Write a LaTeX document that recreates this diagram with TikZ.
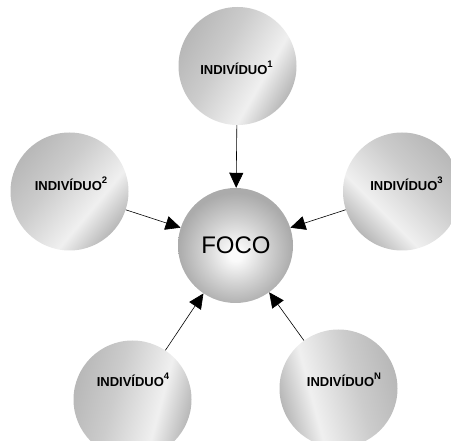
\documentclass[tikz,border=0pt]{standalone}
\usepackage{fontspec}
\setmainfont{Liberation Sans}
\usetikzlibrary{arrows.meta}

% greys for the satellite discs and the central disc
\definecolor{indEdge}{gray}{0.72}
\definecolor{indMid}{gray}{0.80}
\definecolor{indLight}{gray}{0.94}
\definecolor{focoEdge}{gray}{0.67}
\definecolor{focoMid}{gray}{0.82}
\definecolor{focoLight}{gray}{0.98}

% diagonal sheen for the satellite discs
\pgfdeclarehorizontalshading{indivsheen}{100bp}{%
  color(0bp)=(indEdge); color(25bp)=(indEdge); color(42bp)=(indMid);
  color(62bp)=(indLight); color(75bp)=(indEdge); color(100bp)=(indEdge)}
% soft glow for the central disc
\pgfdeclareradialshading{focoglow}{\pgfpoint{0bp}{-4bp}}{%
  color(0bp)=(focoLight); color(3bp)=(focoLight); color(14bp)=(focoMid);
  color(25bp)=(focoEdge); color(50bp)=(focoEdge)}

\newcommand\supidx[1]{\raisebox{7pt}{\fontsize{9.5}{9.5}\selectfont #1}}

\tikzset{
  disc/.style={circle, inner sep=0pt, minimum size=#1, draw=none},
  indiv/.style={disc=118pt, shading=indivsheen},
  focodisc/.style={disc=115pt, shading=focoglow},
  indtext/.style={font=\fontsize{13}{13}\selectfont\bfseries, inner sep=0pt},
  focotext/.style={font=\fontsize{24}{24}\selectfont, inner sep=0pt},
  arr/.style={-{Triangle[length=15pt,width=14pt]}, line width=0.6pt, black},
}

\begin{document}
\begin{tikzpicture}[x=1pt, y=-1pt]
  \useasboundingbox (0,0) rectangle (451,441);
  \clip (0,0) rectangle (451,441);

  % discs
  \node[indiv, shading angle=-30]  (i1) at (237.5,66)    {};
  \node[indiv, shading angle=-40]  (i2) at (69.5,191.5)  {};
  \node[indiv, shading angle=-135] (i3) at (402,191.5)   {};
  \node[indiv, shading angle=-15]  (i4) at (132.5,399.5) {};
  \node[indiv, shading angle=195]  (iN) at (338.5,388.5) {};
  \node[focodisc] (foco) at (235.5,245.5) {};

  % labels
  \node[indtext] (t1) at ([xshift=-1pt,yshift=-2pt]i1.center) {INDIVÍDUO\supidx{1}};
  \node[indtext] (t2) at ([xshift=1.5pt,yshift=8pt]i2.center) {INDIVÍDUO\supidx{2}};
  \node[indtext] (t3) at ([xshift=4.5pt,yshift=8pt]i3.center) {INDIVÍDUO\supidx{3}};
  \node[indtext] (t4) at ([xshift=0.5pt,yshift=19.5pt]i4.center) {INDIVÍDUO\supidx{4}};
  \node[indtext] (tN) at ([xshift=5.5pt,yshift=9pt]iN.center) {INDIVÍDUO\supidx{N}};
  \node[focotext] (tf) at ([xshift=0.5pt]foco.center) {FOCO};

  % connectors towards the focus
  \draw[arr] (i1) -- (foco);
  \draw[arr] (i2) -- (foco);
  \draw[arr] (i3) -- (foco);
  \draw[arr] (i4) -- (foco);
  \draw[arr] (iN) -- (foco);
\end{tikzpicture}
\end{document}
